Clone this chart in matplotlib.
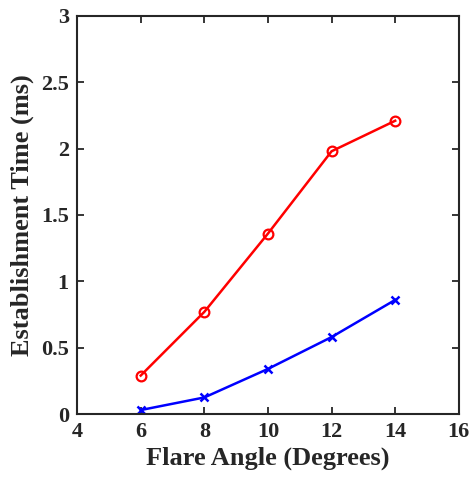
import matplotlib
matplotlib.use("Agg")
import matplotlib.pyplot as plt

# flare angle vs establishment time
angle = [6, 8, 10, 12, 14]
time_red = [0.29, 0.77, 1.36, 1.98, 2.21]
time_blue = [0.03, 0.125, 0.34, 0.58, 0.86]

xticks = [4, 6, 8, 10, 12, 14, 16]
yticks = [0, 0.5, 1, 1.5, 2, 2.5, 3]
yticklabels = ['0', '0.5', '1', '1.5', '2', '2.5', '3']

plt.rcParams['font.family'] = ['Liberation Serif', 'DejaVu Serif']
plt.rcParams['font.weight'] = 'bold'

fig = plt.figure(figsize=(4.73, 4.82), dpi=100)
ax = fig.add_axes([0.163, 0.141, 0.807, 0.826])

ax.plot(angle, time_red, color='red', lw=1.8, marker='o', ms=7,
        mfc='none', mew=1.6)
ax.plot(angle, time_blue, color='blue', lw=1.8, marker='x', ms=6,
        mew=1.8)

ax.set_xlim(4, 16)
ax.set_ylim(0, 3)
ax.set_xticks(xticks)
ax.set_yticks(yticks)
ax.set_yticklabels(yticklabels)
ax.tick_params(direction='in', top=True, right=True, labelsize=16,
               width=1.3, length=5, color='#262626', labelcolor='#262626',
               pad=6)
for s in ax.spines.values():
    s.set_linewidth(1.5)
    s.set_color('#262626')

ax.set_xlabel('Flare Angle (Degrees)', fontsize=19, fontweight='bold',
              color='#262626', labelpad=3)
ax.set_ylabel('Establishment Time (ms)', fontsize=19, fontweight='bold',
              color='#262626', labelpad=5)

fig.savefig('out.png', dpi=100)
